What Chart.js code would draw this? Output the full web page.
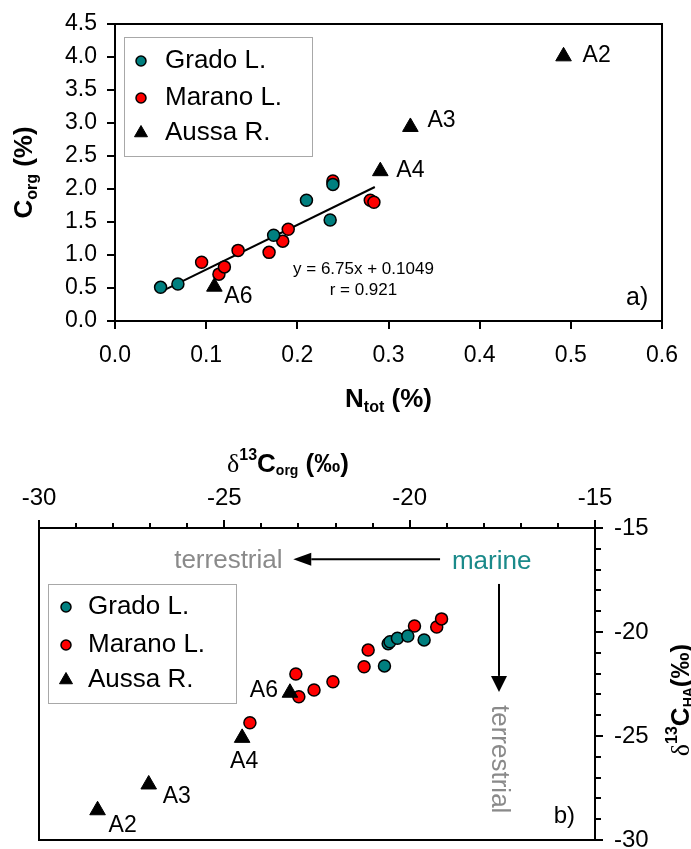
<!DOCTYPE html>
<html>
<head>
<meta charset="utf-8">
<script src="https://cdn.jsdelivr.net/npm/chart.js@4.4.0/dist/chart.umd.min.js"></script>
<style>
html, body { margin: 0; padding: 0; background: #fff; }
#wrap { position: relative; width: 691px; height: 849px; overflow: hidden; }
canvas { position: absolute; left: 0; }
#cTop { top: 0; }
#cBot { top: 420px; }
</style>
</head>
<body>
<div id="wrap">
  <canvas id="cTop" width="691" height="420"></canvas>
  <canvas id="cBot" width="691" height="449"></canvas>
</div>
<script>
// ---- panel a) : N_tot (%) vs C_org (%) ----
const gradoN  = [0.050, 0.069, 0.174, 0.210, 0.236, 0.239];
const gradoC  = [0.51, 0.56, 1.30, 1.83, 1.53, 2.07];
const maranoN = [0.095, 0.114, 0.120, 0.135, 0.169, 0.184, 0.190, 0.239, 0.280, 0.284];
const maranoC = [0.89, 0.71, 0.82, 1.07, 1.04, 1.21, 1.39, 2.12, 1.83, 1.80];
const aussaN  = [0.492, 0.324, 0.291, 0.109];
const aussaC  = [4.01, 2.94, 2.27, 0.52];
const aussaLabels = ['A2', 'A3', 'A4', 'A6'];
const fitN = [0.05, 0.285];
const fitC = [0.44, 2.03];
const xTicksA = [0, 0.1, 0.2, 0.3, 0.4, 0.5, 0.6];
const yTicksA = [0, 0.5, 1, 1.5, 2, 2.5, 3, 3.5, 4, 4.5];
const eqText = 'y = 6.75x + 0.1049';
const rText = 'r = 0.921';

// ---- panel b) : d13C_org vs d13C_HA ----
const gradoOrg  = [-20.68, -20.58, -20.53, -20.33, -20.05, -19.61];
const gradoHA   = [-21.63, -20.56, -20.47, -20.30, -20.19, -20.38];
const maranoOrg = [-19.87, -19.27, -19.14, -21.12, -21.23, -22.07, -22.58, -23.07, -22.99, -24.31];
const maranoHA  = [-19.71, -19.76, -19.37, -20.87, -21.67, -22.39, -22.79, -22.02, -23.11, -24.36];
const aussaOrg  = [-28.42, -27.04, -24.52, -23.23];
const aussaHA   = [-28.57, -27.33, -25.09, -22.92];
const xTicksB = [-30, -25, -20, -15];
const yTicksB = [-30, -25, -20, -15];

const FONT = '"Liberation Sans", Arial, Helvetica, sans-serif';
const SERIF = '"Liberation Serif", "Times New Roman", serif';
const TEAL = '#007f7f';
const RED = '#ff0000';
const GREY = '#8a8a8a';

Chart.defaults.font.family = FONT;
Chart.defaults.color = '#000';

// label offsets (px) for the river points, same order as aussaLabels
const labelOffA = [[19, -1, 'left'], [17, -6, 'left'], [16, -1, 'left'], [10, 10, 'left']];
const labelOffB = [[11, 15, 'left'], [14, 12, 'left'], [2, 24, 'center'], [-12, -2, 'right']];

function pointSet(label, xs, ys, color, style, radius, border, order) {
  return {
    label: label,
    order: order,
    data: xs.map((x, i) => ({ x: x, y: ys[i] })),
    pointStyle: style,
    pointRadius: radius,
    pointHoverRadius: radius,
    backgroundColor: color,
    borderColor: '#000',
    borderWidth: border
  };
}

function richText(ctx, parts, x, y, align) {
  let w = 0;
  parts.forEach(p => { ctx.font = p[1]; w += ctx.measureText(p[0]).width; });
  let cx = align === 'center' ? x - w / 2 : (align === 'right' ? x - w : x);
  ctx.textAlign = 'left';
  parts.forEach(p => {
    ctx.font = p[1];
    ctx.fillText(p[0], cx, y + (p[2] || 0));
    cx += ctx.measureText(p[0]).width;
  });
}

function drawLegend(chart, box, rowsY, markerX, textX) {
  const ctx = chart.ctx;
  ctx.save();
  ctx.fillStyle = '#fff';
  ctx.fillRect(box[0], box[1], box[2], box[3]);
  ctx.strokeStyle = '#a8a8a8';
  ctx.lineWidth = 1;
  ctx.strokeRect(box[0] + 0.5, box[1] + 0.5, box[2], box[3]);
  rowsY.forEach((y, i) => {
    const ds = chart.data.datasets[i];
    ctx.fillStyle = ds.backgroundColor;
    ctx.strokeStyle = '#000';
    ctx.lineWidth = ds.pointStyle === 'circle' ? 1.5 : 1;
    Chart.helpers.drawPoint(ctx, {
      pointStyle: ds.pointStyle,
      radius: ds.pointStyle === 'circle' ? 5 : 7.5,
      borderWidth: ctx.lineWidth,
      rotation: 0
    }, markerX, y);
    ctx.fillStyle = '#000';
    ctx.font = '26px ' + FONT;
    ctx.textAlign = 'left';
    ctx.textBaseline = 'middle';
    ctx.fillText(ds.label, textX, y);
  });
  ctx.restore();
}

function arrow(ctx, x1, y1, x2, y2, headLen, headHalf) {
  const ang = Math.atan2(y2 - y1, x2 - x1);
  const bx = x2 - headLen * Math.cos(ang), by = y2 - headLen * Math.sin(ang);
  ctx.beginPath();
  ctx.moveTo(x1, y1);
  ctx.lineTo(bx, by);
  ctx.stroke();
  ctx.beginPath();
  ctx.moveTo(x2, y2);
  ctx.lineTo(bx + headHalf * Math.sin(ang), by - headHalf * Math.cos(ang));
  ctx.lineTo(bx - headHalf * Math.sin(ang), by + headHalf * Math.cos(ang));
  ctx.closePath();
  ctx.fill();
}

function pointLabels(chart, dsIndex, offs) {
  const ctx = chart.ctx;
  ctx.save();
  ctx.fillStyle = '#000';
  ctx.font = '23px ' + FONT;
  ctx.textBaseline = 'middle';
  chart.getDatasetMeta(dsIndex).data.forEach((pt, i) => {
    ctx.textAlign = offs[i][2];
    ctx.fillText(aussaLabels[i], pt.x + offs[i][0], pt.y + offs[i][1]);
  });
  ctx.restore();
}

const panelA = {
  id: 'panelA',
  afterDatasetsDraw(chart) {
    const ctx = chart.ctx, a = chart.chartArea;
    const sx = chart.scales.x, sy = chart.scales.y;
    ctx.save();
    ctx.strokeStyle = '#000';
    ctx.lineWidth = 2;
    ctx.beginPath();
    ctx.moveTo(a.left, a.top);
    ctx.lineTo(a.right, a.top);
    ctx.lineTo(a.right, a.bottom);
    ctx.stroke();

    ctx.fillStyle = '#000';
    ctx.textBaseline = 'alphabetic';
    ctx.textAlign = 'center';
    ctx.font = '17px ' + FONT;
    ctx.fillText(eqText, sx.getPixelForValue(0.2725), sy.getPixelForValue(0.712));
    ctx.fillText(rText, sx.getPixelForValue(0.2725), sy.getPixelForValue(0.394));
    ctx.textAlign = 'right';
    ctx.font = '25px ' + FONT;
    ctx.fillText('a)', sx.getPixelForValue(0.585), sy.getPixelForValue(0.242));

    // axis titles
    ctx.textBaseline = 'alphabetic';
    richText(ctx, [['N', 'bold 26px ' + FONT], ['tot', 'bold 16px ' + FONT, 5], [' (%)', 'bold 26px ' + FONT]],
      (a.left + a.right) / 2, 407, 'center');
    ctx.translate(32, (a.top + a.bottom) / 2);
    ctx.rotate(-Math.PI / 2);
    richText(ctx, [['C', 'bold 26px ' + FONT], ['org', 'bold 16px ' + FONT, 5], [' (%)', 'bold 26px ' + FONT]],
      0, 0, 'center');
    ctx.restore();

    pointLabels(chart, 2, labelOffA);
    drawLegend(chart, [124, 37, 188, 119], [61, 98, 133], 141, 165);
  }
};

const panelB = {
  id: 'panelB',
  afterDatasetsDraw(chart) {
    const ctx = chart.ctx, a = chart.chartArea;
    const sx = chart.scales.x, sy = chart.scales.y;
    ctx.save();
    ctx.strokeStyle = '#000';
    ctx.lineWidth = 2;
    ctx.beginPath();
    ctx.moveTo(a.right, a.bottom);
    ctx.lineTo(a.left, a.bottom);
    ctx.lineTo(a.left, a.top);
    ctx.stroke();

    // minor ticks every 1 per mil
    ctx.beginPath();
    for (let v = -29; v < -15; v++) {
      if (v % 5 === 0) continue;
      const px = Math.round(sx.getPixelForValue(v));
      ctx.moveTo(px, a.top);
      ctx.lineTo(px, a.top - 5);
      const py = Math.round(sy.getPixelForValue(v));
      ctx.moveTo(a.right, py);
      ctx.lineTo(a.right + 6, py);
    }
    ctx.stroke();

    // arrows and source labels
    ctx.fillStyle = '#000';
    ctx.lineWidth = 2;
    arrow(ctx, sx.getPixelForValue(-19.18), sy.getPixelForValue(-16.50),
      sx.getPixelForValue(-23.14), sy.getPixelForValue(-16.50), 18, 6.5);
    arrow(ctx, sx.getPixelForValue(-17.59), sy.getPixelForValue(-17.69),
      sx.getPixelForValue(-17.59), sy.getPixelForValue(-22.88), 16, 8);

    ctx.font = '26px ' + FONT;
    ctx.textBaseline = 'alphabetic';
    ctx.fillStyle = GREY;
    ctx.textAlign = 'right';
    ctx.fillText('terrestrial', sx.getPixelForValue(-23.43), sy.getPixelForValue(-16.93));
    ctx.fillStyle = '#1a8a8a';
    ctx.textAlign = 'left';
    ctx.fillText('marine', sx.getPixelForValue(-18.86), sy.getPixelForValue(-16.95));

    ctx.save();
    ctx.fillStyle = GREY;
    ctx.translate(sx.getPixelForValue(-17.78), sy.getPixelForValue(-23.51));
    ctx.rotate(Math.PI / 2);
    ctx.textAlign = 'left';
    ctx.fillText('terrestrial', 0, 0);
    ctx.restore();

    ctx.fillStyle = '#000';
    ctx.textAlign = 'right';
    ctx.font = '24px ' + FONT;
    ctx.fillText('b)', sx.getPixelForValue(-15.54), sy.getPixelForValue(-29.17));

    // axis titles
    richText(ctx, [['\u03B4', '26px ' + SERIF], ['13', 'bold 16px ' + FONT, -12], ['C', 'bold 26px ' + FONT],
      ['org', 'bold 14px ' + FONT, 3], [' (\u2030)', 'bold 26px ' + FONT]], 227, 52, 'left');
    ctx.translate(689, 280);
    ctx.rotate(-Math.PI / 2);
    richText(ctx, [['\u03B4', '26px ' + SERIF], ['13', 'bold 16px ' + FONT, -12], ['C', 'bold 26px ' + FONT],
      ['HA', 'bold 14px ' + FONT, 4], ['(\u2030)', 'bold 26px ' + FONT]], 0, 0, 'center');
    ctx.restore();

    pointLabels(chart, 2, labelOffB);
    drawLegend(chart, [48, 164, 188, 119], [187, 225, 260], 66, 88);
  }
};

function axisOpts(pos, min, max, ticks, fit, tickLen, pad, size, fmt) {
  return {
    type: 'linear', position: pos, min: min, max: max,
    afterBuildTicks: s => { s.ticks = ticks.map(v => ({ value: v })); },
    afterFit: fit,
    grid: { drawOnChartArea: false, color: '#000', lineWidth: 2, tickLength: tickLen },
    border: { color: '#000', width: 2 },
    ticks: { color: '#000', font: { size: size }, padding: pad, maxRotation: 0, autoSkip: false, callback: fmt }
  };
}

new Chart(document.getElementById('cTop'), {
  type: 'scatter',
  data: {
    datasets: [
      pointSet('Grado L.', gradoN, gradoC, TEAL, 'circle', 6, 1.5, 1),
      pointSet('Marano L.', maranoN, maranoC, RED, 'circle', 6, 1.5, 2),
      pointSet('Aussa R.', aussaN, aussaC, '#000', 'triangle', 9, 1, 0),
      { label: 'fit', data: fitN.map((x, i) => ({ x: x, y: fitC[i] })), showLine: true,
        borderColor: '#000', borderWidth: 2, pointRadius: 0, order: 3 }
    ]
  },
  options: {
    responsive: false, animation: false, events: [],
    layout: { padding: { left: 0, right: 19, top: 24, bottom: 0 } },
    plugins: { legend: { display: false }, tooltip: { enabled: false } },
    scales: {
      x: axisOpts('bottom', 0, 0.6, xTicksA, s => { s.height = 99; }, 8, 13, 23, v => v.toFixed(1)),
      y: axisOpts('left', 0, 4.5, yTicksA, s => { s.width = 115; }, 8, 10, 23, v => v.toFixed(1))
    }
  },
  plugins: [panelA]
});

new Chart(document.getElementById('cBot'), {
  type: 'scatter',
  data: {
    datasets: [
      pointSet('Grado L.', gradoOrg, gradoHA, TEAL, 'circle', 6, 1.5, 1),
      pointSet('Marano L.', maranoOrg, maranoHA, RED, 'circle', 6, 1.5, 2),
      pointSet('Aussa R.', aussaOrg, aussaHA, '#000', 'triangle', 9, 1, 0)
    ]
  },
  options: {
    responsive: false, animation: false, events: [],
    layout: { padding: { left: 39, right: 0, top: 0, bottom: 29 } },
    plugins: { legend: { display: false }, tooltip: { enabled: false } },
    scales: {
      x: axisOpts('top', -30, -15, xTicksB, s => { s.height = 108; }, 8, 7, 24, v => String(v)),
      y: axisOpts('right', -30, -15, yTicksB, s => { s.width = 96; }, 8, 11, 24, v => String(v))
    }
  },
  plugins: [panelB]
});
</script>
</body>
</html>
